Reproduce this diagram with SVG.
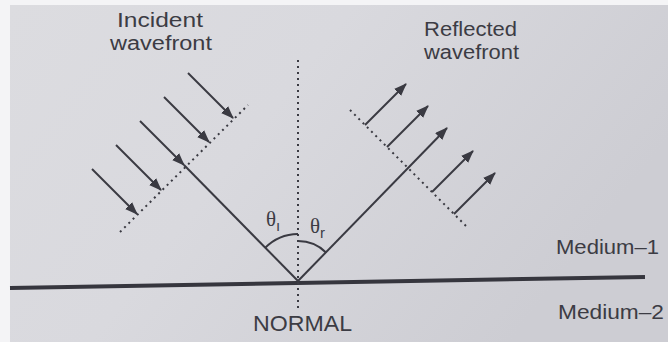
<svg xmlns="http://www.w3.org/2000/svg" width="668" height="342" viewBox="0 0 668 342">
  <defs>
    <linearGradient id="paper" x1="0" y1="0" x2="1" y2="0.4">
      <stop offset="0" stop-color="#dcdce0"/>
      <stop offset="0.45" stop-color="#d9d9de"/>
      <stop offset="1" stop-color="#cdcdd3"/>
    </linearGradient>
    <marker id="ah" viewBox="0 0 13 10" markerWidth="13" markerHeight="10" refX="12" refY="5" orient="auto" markerUnits="userSpaceOnUse">
      <path d="M0,0 L13,5 L0,10 Z" fill="#3a3a42"/>
    </marker>
    <style>
      .ray { stroke: #3a3a42; stroke-width: 2; fill: none; }
      .dot { stroke: #3a3a42; stroke-width: 2; stroke-dasharray: 2 4; fill: none; }
      .lbl { font-family: "Liberation Sans", Arial, sans-serif; fill: #3c3c44; }
      .sym { font-family: "Liberation Serif", "Times New Roman", serif; fill: #3c3c44; }
    </style>
  </defs>

  <rect x="0" y="0" width="668" height="342" fill="#f4f4f6"/>
  <rect x="10" y="5" width="658" height="337" fill="url(#paper)"/>

  <g id="surface">
    <line x1="10" y1="288" x2="645" y2="277" stroke="#36363e" stroke-width="4"/>
  </g>

  <g id="normal">
    <line class="dot" x1="298" y1="60" x2="298" y2="312"/>
    <text class="lbl" x="253" y="331" font-size="22" textLength="99" lengthAdjust="spacingAndGlyphs">NORMAL</text>
  </g>

  <g id="incident-wavefront">
    <line class="dot" x1="120" y1="232" x2="248" y2="105"/>
    <text class="lbl" x="117" y="27" font-size="20" textLength="86" lengthAdjust="spacingAndGlyphs">Incident</text>
    <text class="lbl" x="110" y="50" font-size="20" textLength="102" lengthAdjust="spacingAndGlyphs">wavefront</text>
  </g>

  <g id="reflected-wavefront">
    <line class="dot" x1="350" y1="110" x2="468" y2="228"/>
    <text class="lbl" x="424" y="36" font-size="20" textLength="93" lengthAdjust="spacingAndGlyphs">Reflected</text>
    <text class="lbl" x="424" y="59" font-size="20" textLength="95" lengthAdjust="spacingAndGlyphs">wavefront</text>
  </g>

  <g id="angles">
    <path class="ray" d="M265,248 A47,47 0 0 1 298,234"/>
    <path class="ray" d="M298,241 A40,40 0 0 1 326.3,252.7"/>
    <text class="sym" x="266" y="226" font-size="21">θ<tspan class="lbl" font-size="15" dy="5">ı</tspan></text>
    <text class="sym" x="310" y="233" font-size="21">θ<tspan class="lbl" font-size="15" dy="5">r</tspan></text>
  </g>

  <g id="media">
    <text class="lbl" x="556" y="254" font-size="21" textLength="103" lengthAdjust="spacingAndGlyphs">Medium–1</text>
    <text class="lbl" x="558" y="319" font-size="21" textLength="106" lengthAdjust="spacingAndGlyphs">Medium–2</text>
  </g>

  <g id="connectors">
    <line class="ray" x1="188" y1="73" x2="233" y2="118" marker-end="url(#ah)"/>
    <line class="ray" x1="164" y1="97" x2="209" y2="142" marker-end="url(#ah)"/>
    <line class="ray" x1="140" y1="121" x2="184" y2="165" marker-end="url(#ah)"/>
    <line class="ray" x1="184" y1="165" x2="298" y2="281"/>
    <line class="ray" x1="116" y1="145" x2="161" y2="190" marker-end="url(#ah)"/>
    <line class="ray" x1="92" y1="169" x2="137" y2="214" marker-end="url(#ah)"/>
    <line class="ray" x1="365" y1="125" x2="406" y2="84" marker-end="url(#ah)"/>
    <line class="ray" x1="387" y1="147" x2="428" y2="106" marker-end="url(#ah)"/>
    <line class="ray" x1="298" y1="281" x2="447" y2="128" marker-end="url(#ah)"/>
    <line class="ray" x1="432" y1="192" x2="473" y2="151" marker-end="url(#ah)"/>
    <line class="ray" x1="454" y1="214" x2="495" y2="173" marker-end="url(#ah)"/>
  </g>
</svg>
